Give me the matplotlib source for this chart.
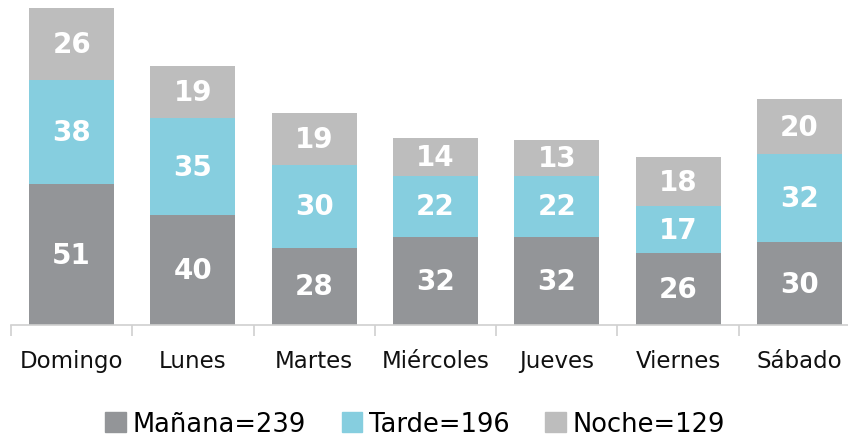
import numpy as np
import matplotlib.pyplot as plt
from matplotlib.patches import Patch

dias = ['Domingo', 'Lunes', 'Martes', 'Miércoles', 'Jueves', 'Viernes', 'Sábado']
manana = [51, 40, 28, 32, 32, 26, 30]
tarde = [38, 35, 30, 22, 22, 17, 32]
noche = [26, 19, 19, 14, 13, 18, 20]

c_man = '#939598'
c_tar = '#86CEDF'
c_noc = '#BDBDBD'

fig = plt.figure(figsize=(8.48, 4.39), dpi=100)
ax = fig.add_axes([11 / 848, (439 - 326) / 439, 849 / 848, (326 - 9) / 439])

x = np.arange(len(dias))
w = 0.7
b2 = np.array(manana)
b3 = b2 + np.array(tarde)
ax.bar(x, manana, w, color=c_man)
ax.bar(x, tarde, w, bottom=b2, color=c_tar)
ax.bar(x, noche, w, bottom=b3, color=c_noc)

for i in range(len(dias)):
    for val, bot in ((manana[i], 0), (tarde[i], b2[i]), (noche[i], b3[i])):
        ax.text(x[i], bot + val / 2, str(val), ha='center', va='center',
                color='white', fontsize=20, fontweight='bold')

ax.set_xlim(-0.5, len(dias) - 0.5)
ax.set_ylim(0, 115)
ax.set_yticks([])
for s in ('top', 'right', 'left'):
    ax.spines[s].set_visible(False)
ax.spines['bottom'].set_color('#D0D0D0')
ax.spines['bottom'].set_linewidth(1.2)
ax.set_xticks(x)
ax.set_xticklabels(dias, fontsize=16.5, color='#111111')
ax.tick_params(axis='x', which='major', length=0, pad=17)
ax.set_xticks(np.arange(-0.5, len(dias)), minor=True)
ax.tick_params(axis='x', which='minor', length=8, color='#D0D0D0', width=1.2)

handles = [Patch(color=c_man, label='Mañana=239'),
           Patch(color=c_tar, label='Tarde=196'),
           Patch(color=c_noc, label='Noche=129')]
fig.legend(handles=handles, loc='center', bbox_to_anchor=(415 / 848, 1 - 425 / 439),
           ncol=3, frameon=False, fontsize=18.5, handlelength=0.8, handleheight=0.8,
           handletextpad=0.25, columnspacing=1.4)

fig.savefig('out.png', dpi=100)
